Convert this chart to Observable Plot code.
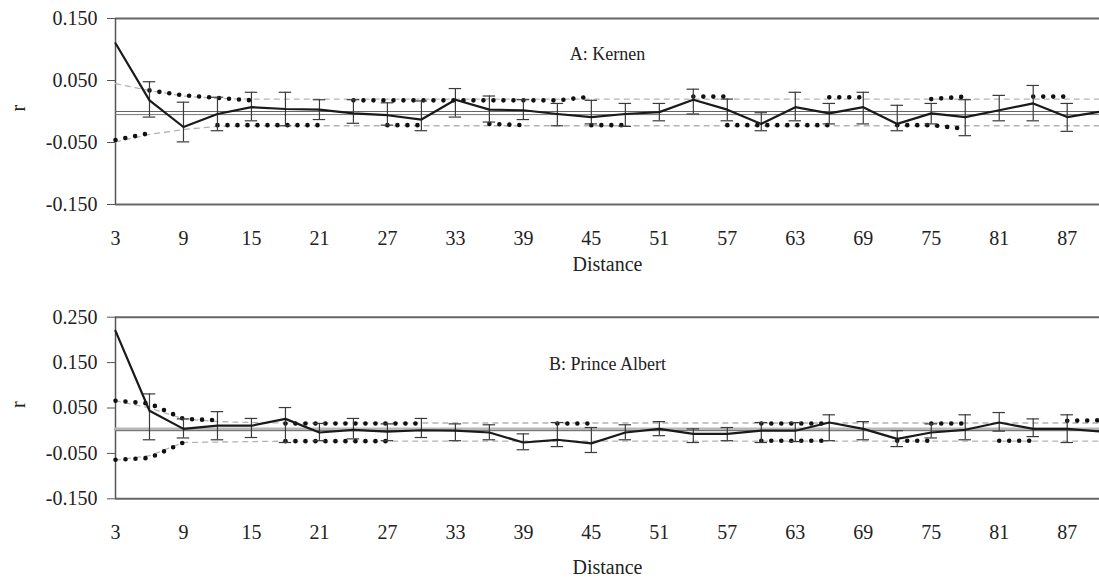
<!DOCTYPE html>
<html><head><meta charset="utf-8">
<script src="https://cdn.jsdelivr.net/npm/d3@7"></script>
<script src="https://cdn.jsdelivr.net/npm/@observablehq/plot@0.6"></script>
<style>
body{margin:0;background:#fff;}
#wrap{width:1099px;height:584px;overflow:hidden;position:relative;background:#fff;}
#wrap svg{display:block;}
</style></head><body><div id="wrap"></div>
<script>
// Distance classes and tick labels
const distances = [3,6,9,12,15,18,21,24,27,30,33,36,39,42,45,48,51,54,57,60,63,66,69,72,75,78,81,84,87,90];
const xTicks = [3,9,15,21,27,33,39,45,51,57,63,69,75,81,87];
const yTicksA = [-0.15,-0.05,0.05,0.15];
const yTicksB = [-0.15,-0.05,0.05,0.15,0.25];

// Panel A: Kernen
const rA  = [0.110,0.018,-0.025,-0.004,0.007,0.004,0.003,-0.003,-0.006,-0.013,0.019,0.003,0.002,-0.004,-0.009,-0.004,-0.001,0.019,0.003,-0.020,0.007,-0.003,0.007,-0.020,-0.003,-0.009,0.002,0.013,-0.009,0.000];
const hiA = [null,0.048,0.015,0.023,0.031,0.031,0.019,0.019,0.014,0.017,0.037,0.025,0.019,0.013,0.018,0.013,0.013,0.036,0.020,-0.002,0.031,0.013,0.031,0.010,0.013,0.019,0.026,0.042,0.013,null];
const loA = [null,-0.009,-0.049,-0.031,-0.015,-0.023,-0.013,-0.019,-0.022,-0.031,-0.009,-0.017,-0.013,-0.023,-0.020,-0.024,-0.015,-0.004,-0.015,-0.031,-0.015,-0.020,-0.020,-0.031,-0.020,-0.039,-0.015,-0.015,-0.032,null];
const nullA = [-0.005,-0.005,-0.005,-0.005,-0.005,-0.005,-0.005,-0.005,-0.005,-0.005,-0.005,-0.005,-0.005,-0.005,-0.005,-0.005,-0.005,-0.005,-0.005,-0.005,-0.005,-0.005,-0.005,-0.005,-0.005,-0.005,-0.005,-0.005,-0.005,-0.005];
const dashUpA = [0.045,0.034,0.025,0.021,0.020,0.020,0.020,0.020,0.020,0.020,0.020,0.020,0.020,0.020,0.020,0.020,0.020,0.020,0.020,0.020,0.020,0.020,0.020,0.020,0.020,0.020,0.020,0.020,0.020,0.020];
const dashLoA = [-0.049,-0.037,-0.029,-0.024,-0.023,-0.023,-0.023,-0.023,-0.023,-0.023,-0.023,-0.023,-0.023,-0.023,-0.023,-0.023,-0.023,-0.023,-0.023,-0.023,-0.023,-0.023,-0.023,-0.023,-0.023,-0.023,-0.023,-0.023,-0.023,-0.023];
const dotUpA = [null,0.034,0.026,0.022,0.018,null,null,0.018,0.018,0.018,0.018,0.018,0.018,0.018,0.024,null,null,0.024,0.024,null,null,0.023,0.023,null,0.020,0.024,null,0.024,0.024,null];
const dotLoA = [-0.046,-0.035,null,-0.022,-0.022,-0.022,-0.022,null,-0.022,-0.022,null,-0.020,-0.022,null,-0.022,-0.022,null,null,-0.022,-0.022,-0.022,-0.022,null,-0.022,-0.022,-0.028,null,null,null,null];

// Panel B: Prince Albert
const rB  = [0.220,0.044,0.004,0.011,0.011,0.026,-0.004,0.002,-0.002,0.001,0.000,-0.004,-0.026,-0.020,-0.028,-0.004,0.004,-0.007,-0.007,0.000,0.000,0.018,0.004,-0.018,-0.004,0.002,0.018,0.004,0.004,-0.002];
const hiB = [null,0.081,0.026,0.042,0.027,0.051,0.016,0.027,0.015,0.027,0.015,0.013,-0.007,0.018,0.007,0.013,0.020,0.004,0.007,0.018,0.018,0.035,0.020,0.000,0.015,0.035,0.040,0.026,0.035,null];
const loB = [null,-0.020,-0.016,-0.020,-0.015,-0.026,-0.022,-0.018,-0.022,-0.015,-0.022,-0.020,-0.042,-0.035,-0.048,-0.020,-0.011,-0.026,-0.022,-0.026,-0.024,-0.022,-0.020,-0.035,-0.016,-0.020,-0.001,-0.013,-0.026,null];
const nullB = [0.003,0.003,0.003,0.003,0.003,0.003,0.003,0.003,0.003,0.003,0.003,0.003,0.003,0.003,0.003,0.003,0.003,0.003,0.003,0.003,0.003,0.003,0.003,0.003,0.003,0.003,0.003,0.003,0.003,0.003];
const dashUpB = [0.066,0.050,0.026,0.020,0.018,0.017,0.017,0.017,0.017,0.017,0.017,0.017,0.017,0.017,0.017,0.017,0.017,0.017,0.017,0.017,0.017,0.017,0.017,0.017,0.017,0.017,0.017,0.017,0.017,0.017];
const dashLoB = [-0.065,-0.055,-0.026,-0.025,-0.024,-0.023,-0.023,-0.023,-0.023,-0.023,-0.023,-0.023,-0.023,-0.023,-0.023,-0.023,-0.023,-0.023,-0.023,-0.023,-0.023,-0.023,-0.023,-0.023,-0.023,-0.023,-0.023,-0.023,-0.023,-0.023];
const dotUpB = [0.066,0.060,0.026,0.023,null,0.016,0.016,0.016,0.016,0.016,null,null,null,0.016,0.016,null,null,null,null,0.016,0.016,0.016,null,null,0.016,0.016,null,null,0.022,0.023];
const dotLoB = [-0.064,-0.060,-0.026,null,null,-0.023,-0.023,-0.023,-0.023,null,null,null,null,null,null,null,null,null,null,-0.022,-0.022,-0.022,null,-0.022,-0.022,null,-0.022,-0.022,null,null];

const FONT = "'Liberation Serif','Times New Roman',serif";

function panel(cfg) {
  const rows = distances.map((d, i) => ({
    d, r: cfg.r[i], hi: cfg.hi[i], lo: cfg.lo[i], g: cfg.nul[i],
    du: cfg.dashUp[i], dl: cfg.dashLo[i], pu: cfg.dotUp[i], pl: cfg.dotLo[i]
  }));
  const bars = rows.filter(o => o.hi != null);
  const dash = {stroke: "#b3b3b3", strokeWidth: 1.3, strokeDasharray: "5,5"};
  const dots = {stroke: "#111", strokeWidth: 4.6, strokeDasharray: "0,10", strokeLinecap: "round"};
  const eb = {stroke: "#3a3a3a", strokeWidth: 1.2};
  return Plot.plot({
    width: 1099, height: cfg.height,
    marginTop: cfg.marginTop, marginBottom: cfg.marginBottom, marginLeft: 115, marginRight: 0,
    style: {fontFamily: FONT, fontSize: "20px", color: "#222", background: "#fff", overflow: "hidden"},
    x: {type: "linear", domain: [3, 89.85]},
    y: {domain: cfg.yDomain},
    marks: [
      Plot.ruleY(cfg.yDomain, {stroke: "#666", strokeWidth: 2}),
      Plot.ruleX([3], {stroke: "#555", strokeWidth: 1.5}),
      Plot.axisY({ticks: cfg.yTicks, tickFormat: v => v.toFixed(3), tickSize: 8, tickPadding: 10, label: null, stroke: "#555"}),
      Plot.axisX({ticks: xTicks, tickFormat: v => String(v), tickSize: 0, tickPadding: 26, label: null}),
      Plot.text(["r"], {text: v => v, frameAnchor: "left", dx: -97, rotate: -90, fill: "#222"}),
      Plot.text(["Distance"], {text: v => v, frameAnchor: "bottom", dy: cfg.labelDy, fill: "#222"}),
      Plot.text([cfg.title], {text: v => v, frameAnchor: "top", dy: cfg.titleDy, fontSize: 18, fill: "#222", letterSpacing: cfg.titleSpacing}),
      Plot.line(rows, {x: "d", y: "du", ...dash}),
      Plot.line(rows, {x: "d", y: "dl", ...dash}),
      Plot.line(rows, {x: "d", y: "g", stroke: cfg.nulColor, strokeWidth: cfg.nulWidth}),
      Plot.ruleY([0], {stroke: "#666", strokeWidth: 1}),
      Plot.line(rows, {x: "d", y: "pu", ...dots}),
      Plot.line(rows, {x: "d", y: "pl", ...dots}),
      Plot.ruleX(bars, {x: "d", y1: "lo", y2: "hi", ...eb}),
      Plot.ruleY(bars, {y: "hi", x1: o => o.d - 0.55, x2: o => o.d + 0.55, ...eb}),
      Plot.ruleY(bars, {y: "lo", x1: o => o.d - 0.55, x2: o => o.d + 0.55, ...eb}),
      Plot.line(rows, {x: "d", y: "r", stroke: "#1a1a1a", strokeWidth: 2.2})
    ]
  });
}

const wrap = document.getElementById("wrap");
wrap.appendChild(panel({
  r: rA, hi: hiA, lo: loA, nul: nullA, dashUp: dashUpA, dashLo: dashLoA, dotUp: dotUpA, dotLo: dotLoA,
  yDomain: [-0.15, 0.15], yTicks: yTicksA, title: "A: Kernen", titleSpacing: "0px",
  height: 290, marginTop: 18, marginBottom: 86, labelDy: 66, titleDy: 29,
  nulColor: "#777", nulWidth: 1
}));
wrap.appendChild(panel({
  r: rB, hi: hiB, lo: loB, nul: nullB, dashUp: dashUpB, dashLo: dashLoB, dotUp: dotUpB, dotLo: dotLoB,
  yDomain: [-0.15, 0.25], yTicks: yTicksB, title: "B: Prince Albert", titleSpacing: "-0.6px",
  height: 294, marginTop: 26.7, marginBottom: 85.7, labelDy: 75, titleDy: 40,
  nulColor: "#b8b8b8", nulWidth: 3.5
}));
</script></body></html>
